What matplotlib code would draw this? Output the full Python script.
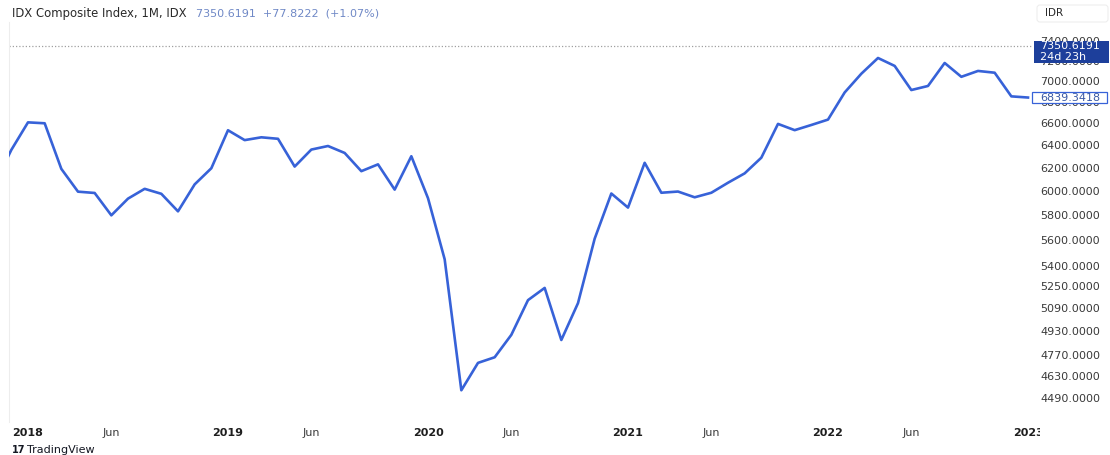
import matplotlib
matplotlib.use('Agg')
import matplotlib.pyplot as plt
from matplotlib.patches import Rectangle, FancyBboxPatch
from matplotlib.transforms import IdentityTransform, Bbox
from matplotlib.ticker import NullLocator

# monthly closes, IDX Composite (Nov 2017 .. Jan 2023)
closes_2017 = [6057.6, 6355.7]  # Nov, Dec
closes_2018 = [6605.6, 6597.2, 6189.0, 5994.6, 5983.6, 5799.2,
               5936.4, 6018.5, 5976.6, 5831.7, 6056.1, 6194.5]
closes_2019 = [6533.0, 6443.4, 6468.8, 6455.4, 6209.1, 6358.6,
               6390.5, 6328.5, 6169.1, 6228.3, 6011.8, 6299.5]
closes_2020 = [5940.1, 5452.7, 4538.9, 4716.4, 4753.6, 4905.4,
               5149.6, 5238.5, 4870.0, 5128.2, 5612.4, 5979.1]
closes_2021 = [5862.4, 6241.8, 5985.5, 5995.6, 5947.5, 5985.5,
               6070.0, 6150.3, 6286.9, 6591.4, 6533.9, 6581.5]
closes_2022 = [6631.2, 6888.2, 7071.4, 7228.9, 7149.0, 6911.6,
               6951.1, 7178.6, 7040.8, 7098.9, 7081.3, 6850.6]
closes_2023 = [6839.3418]

last_price = 7350.6191
change = 77.8222
change_pct = 1.07
countdown = '24d 23h'

price_ticks = [4490, 4630, 4770, 4930, 5090, 5250, 5400, 5600, 5800,
               6000, 6200, 6400, 6600, 6800, 7000, 7200, 7400]
time_ticks = [0, 5, 12, 17, 24, 29, 36, 41, 48, 53, 60]  # months from Jan 2018
time_labels = ['2018', 'Jun', '2019', 'Jun', '2020', 'Jun',
               '2021', 'Jun', '2022', 'Jun', '2023']

closes = closes_2017 + closes_2018 + closes_2019 + closes_2020 + closes_2021 + closes_2022 + closes_2023
months = list(range(-2, -2 + len(closes)))

W, H = 1110, 455
LINE = '#3762d8'
LABEL = '#3a3a3a'

fig = plt.figure(figsize=(W / 100, H / 100), dpi=100)
ax = fig.add_axes([9 / W, (H - 422) / H, (1033 - 9) / W, 400 / H])

ax.plot(months, closes, color=LINE, lw=1.9, solid_joinstyle='round', zorder=3)
ax.axhline(last_price, color='#a0a0a0', lw=0.9, ls=(0, (1, 1.6)), zorder=2)

ax.set_yscale('log')
ax.set_ylim(4341.6, 7602.6)
ax.set_xlim(-1.14, 60.3)
ax.yaxis.set_minor_locator(NullLocator())
ax.yaxis.tick_right()
ax.set_yticks(price_ticks, ['%.4f' % v for v in price_ticks])
ax.tick_params(axis='y', length=0, pad=5, labelsize=8, labelcolor=LABEL)

ax.set_xticks(time_ticks, time_labels)
ax.tick_params(axis='x', length=0, pad=4.5, labelsize=8, labelcolor=LABEL)
for lab, txt in zip(ax.get_xticklabels(), time_labels):
    if txt.isdigit():
        lab.set_fontweight('bold')
        lab.set_color('#1e1e1e')
last_lab = ax.get_xticklabels()[-1]
last_lab.set_clip_on(True)
last_lab.set_clip_box(Bbox.from_extents(0, 0, 1040, H))

for side in ['top', 'right', 'bottom']:
    ax.spines[side].set_visible(False)
ax.spines['left'].set_color('#ededed')
ax.spines['left'].set_linewidth(0.8)

# price label of the current value
y_now = ax.transData.transform((0, last_price))[1]
fig.add_artist(Rectangle((1034, y_now - 16.5), 75, 22, transform=IdentityTransform(),
                         fc='#1d3f9b', ec='none', zorder=5))
fig.text(1040, y_now, '%.4f' % last_price, transform=IdentityTransform(),
         color='white', fontsize=8, va='center', ha='left', zorder=6)
fig.text(1040, y_now - 10.5, countdown, transform=IdentityTransform(),
         color='white', fontsize=8, va='center', ha='left', zorder=6)

# label of the last close
y_last = ax.transData.transform((0, closes[-1]))[1]
fig.add_artist(Rectangle((1031.5, y_last - 5.5), 75.5, 11, transform=IdentityTransform(),
                         fc='white', ec=LINE, lw=0.9, zorder=5))
fig.text(1040, y_last, '%.4f' % closes[-1], transform=IdentityTransform(),
         color='#3b5aa6', fontsize=8, va='center', ha='left', zorder=6)

# header
fig.text(12 / W, 1 - 13 / H, 'IDX Composite Index, 1M, IDX', fontsize=8.4,
         color='#2a2a2a', va='center', ha='left')
fig.text(196 / W, 1 - 13 / H, '%.4f  +%.4f  (+%.2f%%)' % (last_price, change, change_pct),
         fontsize=8, color='#6f88c6', va='center', ha='left')
fig.add_artist(FancyBboxPatch((1037, H - 22), 71, 17, boxstyle='round,pad=0,rounding_size=3',
                              transform=IdentityTransform(), fc='white', ec='#eeeeee', lw=0.8))
fig.text(1045, H - 13, 'IDR', transform=IdentityTransform(), fontsize=7.5,
         color='#2a2a2a', va='center', ha='left')

# footer
fig.text(12 / W, 1 - 450 / H, '17', fontsize=7, fontweight='bold', color='#131722',
         va='center', ha='left')
fig.text(27 / W, 1 - 450 / H, 'TradingView', fontsize=8, color='#131722',
         va='center', ha='left')

fig.savefig('out.png', dpi=100)
